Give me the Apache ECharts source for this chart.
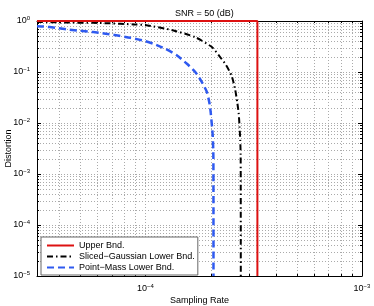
<!DOCTYPE html>
<html><head><meta charset="utf-8">
<script src="https://cdn.jsdelivr.net/npm/echarts@6/dist/echarts.min.js"></script>
<style>html,body{margin:0;padding:0;background:#fff}#c{width:374px;height:306px}</style>
</head><body><div id="c"></div>
<script>
const titleText = 'SNR = 50 (dB)';
const xName = 'Sampling Rate';
const yName = 'Distortion';
const seriesNames = ['Upper Bnd.', 'Sliced\u2212Gaussian Lower Bnd.', 'Point\u2212Mass Lower Bnd.'];
const xMin = Math.pow(10, -4.5), xMax = 1e-3;
const yMin = 1e-5, yMax = 1;

const upperRate = [3.162e-5, 3.29e-4, 3.29e-4];
const upperDist = [1, 1, 1e-5];

const slicedRate = [3.162e-5, 4.47e-5, 5.75e-5, 6.67e-5, 7.67e-5, 8.81e-5, 1.0e-4, 1.349e-4, 1.698e-4, 2.028e-4, 2.188e-4, 2.355e-4, 2.50e-4, 2.594e-4, 2.655e-4, 2.698e-4, 2.723e-4, 2.742e-4, 2.754e-4, 2.758e-4];
const slicedDist = [0.955, 0.933, 0.92, 0.905, 0.882, 0.857, 0.835, 0.652, 0.482, 0.309, 0.209, 0.138, 0.0851, 0.0468, 0.0257, 0.0151, 0.0083, 0.00457, 0.00234, 1e-5];

const pointRate = [3.162e-5, 3.40e-5, 3.85e-5, 4.34e-5, 4.85e-5, 5.43e-5, 6.10e-5, 6.82e-5, 7.59e-5, 8.53e-5, 1.0e-4, 1.09e-4, 1.236e-4, 1.40e-4, 1.556e-4, 1.70e-4, 1.824e-4, 1.923e-4, 1.977e-4, 2.004e-4, 2.046e-4, 2.061e-4, 2.063e-4];
const pointDist = [0.79, 0.78, 0.736, 0.685, 0.652, 0.624, 0.587, 0.552, 0.513, 0.469, 0.403, 0.358, 0.286, 0.211, 0.145, 0.100, 0.0634, 0.0405, 0.0245, 0.0158, 0.00575, 0.00214, 1e-5];

const minorX = [4e-5, 5e-5, 6e-5, 7e-5, 8e-5, 9e-5, 2e-4, 3e-4, 4e-4, 5e-4, 6e-4, 7e-4, 8e-4, 9e-4];
const minorMant = [2, 3, 4, 5, 6, 7, 8, 9];
const minorDecades = [-5, -4, -3, -2, -1];
const minorY = [];
minorDecades.forEach(d => minorMant.forEach(m => minorY.push(m * Math.pow(10, d))));

const zip = (a, b) => a.map((v, i) => [v, b[i]]);
const FONT = 'Liberation Sans, Arial, Helvetica, sans-serif';

function powLabel(v) {
  const e = Math.log10(v), r = Math.round(e);
  if (Math.abs(e - r) > 1e-6) return '';
  return '{b|10}{s|' + String(r).replace('-', '\u2212') + '}';
}
const rich = { b: { fontSize: 9, fontFamily: FONT, color: '#000' }, s: { fontSize: 6, fontFamily: FONT, color: '#000', padding: [0, 0, 6, 0] } };
const gridLine = { show: true, lineStyle: { color: '#aaa', width: 1, type: [1, 2] } };

const minorData = minorX.map(v => [v, 1e-2, 0]).concat(minorY.map(v => [1e-4, v, 1]));

const chart = echarts.init(document.getElementById('c'), null, { renderer: 'canvas' });
chart.setOption({
  animation: false,
  backgroundColor: '#fff',
  textStyle: { fontFamily: FONT },
  title: { text: titleText, left: 170, top: 4, textStyle: { fontSize: 9, fontWeight: 'normal', color: '#000', fontFamily: FONT } },
  grid: { left: 37, right: 12, top: 21, bottom: 30, containLabel: false, outerBoundsMode: 'none' },
  legend: {
    data: seriesNames, orient: 'vertical', left: 41, top: 237,
    itemWidth: 27, itemHeight: 8, itemGap: 2, padding: [4, 3, 3, 5],
    backgroundColor: '#fff', borderColor: '#666', borderWidth: 1, borderRadius: 0,
    itemStyle: { opacity: 0 },
    textStyle: { fontSize: 9, color: '#000', fontFamily: FONT }
  },
  xAxis: [
    { type: 'log', logBase: 10, min: xMin, max: xMax, position: 'bottom',
      name: xName, nameLocation: 'middle', nameGap: 20, nameMoveOverlap: false, nameTextStyle: { fontSize: 9, color: '#000' },
      axisLine: { show: true, lineStyle: { color: '#000', width: 1 } },
      axisTick: { show: true, inside: true, length: 4, lineStyle: { color: '#000' } },
      axisLabel: { interval: 0, margin: 7, formatter: powLabel, rich: rich },
      splitLine: gridLine },
    { type: 'log', logBase: 10, min: xMin, max: xMax, position: 'top',
      axisLine: { show: true, lineStyle: { color: '#000', width: 1 } },
      axisTick: { show: true, inside: true, length: 4, lineStyle: { color: '#000' } },
      axisLabel: { show: false }, splitLine: { show: false } }
  ],
  yAxis: [
    { type: 'log', logBase: 10, min: yMin, max: yMax, position: 'left',
      name: yName, nameLocation: 'middle', nameGap: 24, nameMoveOverlap: false, nameTextStyle: { fontSize: 9, color: '#000' },
      axisLine: { show: true, lineStyle: { color: '#000', width: 1 } },
      axisTick: { show: true, inside: true, length: 4, lineStyle: { color: '#000' } },
      axisLabel: { interval: 0, margin: 7, formatter: powLabel, rich: rich },
      splitLine: gridLine },
    { type: 'log', logBase: 10, min: yMin, max: yMax, position: 'right',
      axisLine: { show: true, lineStyle: { color: '#000', width: 1 } },
      axisTick: { show: true, inside: true, length: 4, lineStyle: { color: '#000' } },
      axisLabel: { show: false }, splitLine: { show: false } }
  ],
  series: [
    { type: 'custom', silent: true, z: 1, xAxisIndex: 0, yAxisIndex: 0, data: minorData,
      renderItem: function (params, api) {
        const cs = params.coordSys;
        const kind = api.value(2);
        const p = api.coord([api.value(0), api.value(1)]);
        const st = { stroke: '#aaa', lineWidth: 1, lineDash: [1, 2], fill: null };
        const tk = { stroke: '#000', lineWidth: 1, fill: null };
        if (kind === 0) {
          const x = Math.round(p[0]) + 0.5;
          return { type: 'group', children: [
            { type: 'line', shape: { x1: x, y1: cs.y, x2: x, y2: cs.y + cs.height }, style: st },
            { type: 'line', shape: { x1: x, y1: cs.y + cs.height, x2: x, y2: cs.y + cs.height - 2 }, style: tk },
            { type: 'line', shape: { x1: x, y1: cs.y, x2: x, y2: cs.y + 2 }, style: tk }
          ] };
        }
        const y = Math.round(p[1]) + 0.5;
        return { type: 'group', children: [
          { type: 'line', shape: { x1: cs.x, y1: y, x2: cs.x + cs.width, y2: y }, style: st },
          { type: 'line', shape: { x1: cs.x, y1: y, x2: cs.x + 2, y2: y }, style: tk },
          { type: 'line', shape: { x1: cs.x + cs.width, y1: y, x2: cs.x + cs.width - 2, y2: y }, style: tk }
        ] };
      } },
    { name: seriesNames[0], type: 'line', z: 4, clip: false, symbol: 'none', showSymbol: false,
      data: zip(upperRate, upperDist), lineStyle: { color: '#dd1111', width: 2 }, itemStyle: { color: '#dd1111' } },
    { name: seriesNames[1], type: 'line', z: 3, symbol: 'none', showSymbol: false, smooth: 0.2,
      data: zip(slicedRate, slicedDist), lineStyle: { color: '#000', width: 2, type: [6, 3, 1.5, 3] }, itemStyle: { color: '#000' } },
    { name: seriesNames[2], type: 'line', z: 3, symbol: 'none', showSymbol: false, smooth: 0.2,
      data: zip(pointRate, pointDist), lineStyle: { color: '#2f5af0', width: 2.5, type: [7, 4] }, itemStyle: { color: '#2f5af0' } }
  ]
});
</script></body></html>
